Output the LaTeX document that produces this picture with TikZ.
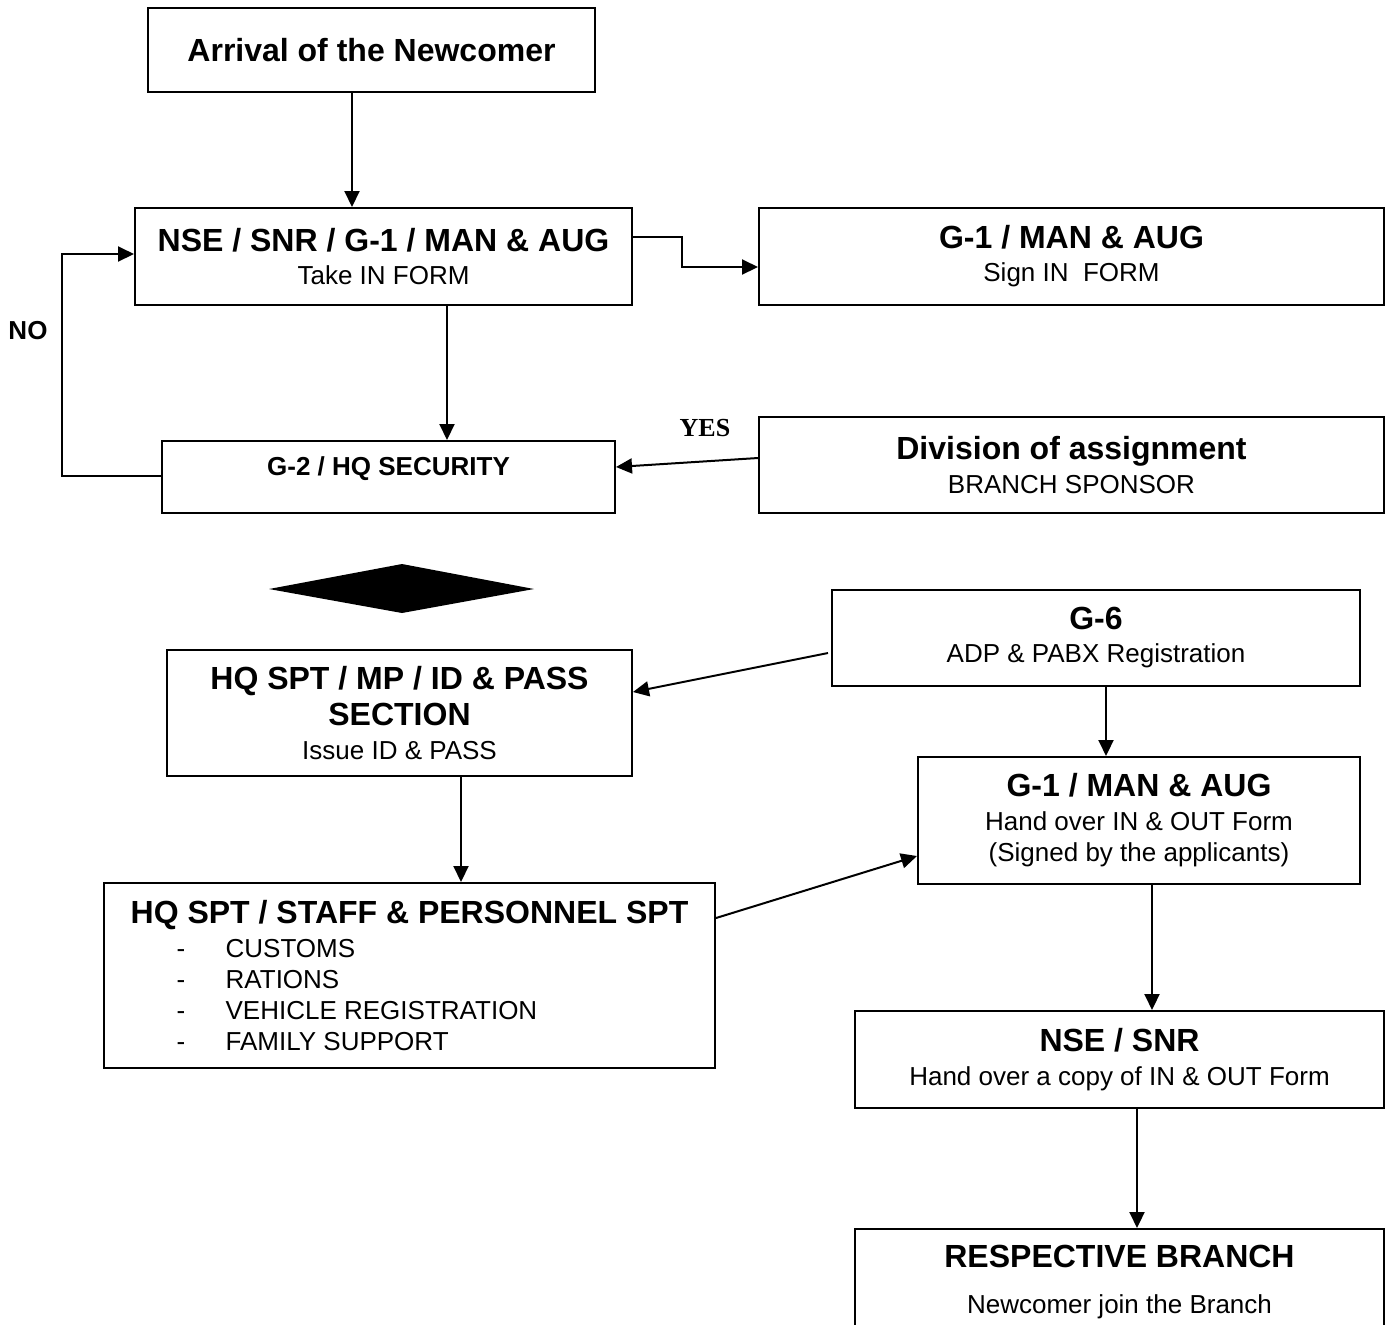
\documentclass[tikz,border=0pt]{standalone}
\usepackage{fontspec}
\setmainfont{Liberation Sans}
\newfontfamily\yesfont{Liberation Serif}
\usetikzlibrary{positioning,calc,arrows.meta}

\newcommand{\hd}[1]{{\fontsize{16}{17}\selectfont\bfseries #1}}
\newcommand{\itm}[1]{\makebox[47.5pt][l]{\hspace{23pt}-}#1}

\tikzset{
  box/.style={draw, line width=1pt, rectangle, align=center, inner sep=0pt,
    font=\fontsize{13}{15.5}\selectfont},
  arr/.style={-{Triangle[length=8pt,width=7.5pt]}, line width=1pt},
  lbl/.style={font=\fontsize{13}{15.5}\selectfont\bfseries}
}

\begin{document}
\begin{tikzpicture}[x=0.5pt,y=-0.5pt]
    \clip (0,0) rectangle (1390,1324);

    % Boxes
    \node[box, minimum width=223.5pt, minimum height=42pt] (arrival) at (371.5,50)
        {\hd{Arrival of the Newcomer}};
    \node[box, minimum width=248.5pt, minimum height=48.5pt] (takein) at (383.5,256.5)
        {\hd{NSE / SNR / G-1 / MAN \& AUG}\\[1pt] Take IN FORM};
    \node[box, minimum width=312.5pt, minimum height=48.5pt] (signin) at (1071.5,256.5)
        {\hd{G-1 / MAN \& AUG}\\[1pt] Sign IN\ \ FORM};
    \node[box, minimum width=226.5pt, minimum height=36pt,
        label={[yshift=4pt, font=\fontsize{13}{15.5}\selectfont\bfseries]center:G-2 / HQ SECURITY}]
        (security) at (388.5,477) {};
    \node[box, minimum width=312.5pt, minimum height=48pt] (division) at (1071.5,465)
        {\hd{Division of assignment}\\[1.5pt] BRANCH SPONSOR};

    % Decision
    \fill (269,589) -- (402,564) -- (534,589) -- (402,613) -- cycle;

    \node[box, minimum width=264pt, minimum height=48pt] (adp) at (1096,638)
        {\hd{G-6}\\[1pt] ADP \& PABX Registration};
    \node[box, minimum width=232.5pt, minimum height=63pt] (idpass) at (399.5,713)
        {\hd{HQ SPT / MP / ID \& PASS}\\[2.5pt] \hd{SECTION}\\[1.5pt] Issue ID \& PASS};
    \node[box, minimum width=221pt, minimum height=63.5pt] (handover) at (1139,820.5)
        {\hd{G-1 / MAN \& AUG}\\[1.5pt] Hand over IN \& OUT Form\\ (Signed by the applicants)};
    \node[box, align=left, minimum width=305.5pt, minimum height=92.5pt] (staff) at (409.5,975.5)
        {\hd{HQ SPT / STAFF \& PERSONNEL SPT}\\[1.5pt]
         \itm{CUSTOMS}\\ \itm{RATIONS}\\ \itm{VEHICLE REGISTRATION}\\ \itm{FAMILY SUPPORT}};
    \node[box, minimum width=264.5pt, minimum height=48.5pt] (copy) at (1119.5,1059.5)
        {\hd{NSE / SNR}\\[1.5pt] Hand over a copy of IN \& OUT Form};
    \node[box, minimum width=264.5pt, minimum height=70pt, anchor=north] (branch) at (1119.5,1228) {};
    \node[anchor=north, inner sep=0pt, align=center, font=\fontsize{13}{15.5}\selectfont]
        (branchtxt) at ($(branch.north)+(0,17)$)
        {\hd{RESPECTIVE BRANCH}\\[7.5pt] Newcomer join the Branch};

    % Connectors
    \draw[arr] (arrival.south -| 352,0) -- (takein.north -| 352,0);
    \draw[arr] (takein.east |- 0,237) -- (682,237) -- (682,267) -- (signin.west |- 0,267);
    \draw[arr] (takein.south -| 447,0) -- (security.north -| 447,0);
    \draw[arr] (security.west |- 0,476) -- (62,476) -- (62,254) -- (takein.west |- 0,254);
    \draw[arr] (division.west |- 0,458) -- (security.east |- 0,467);
    \draw[arr] (828,653) -- (idpass.east |- 0,692);
    \draw[arr] (adp.south -| 1106,0) -- (handover.north -| 1106,0);
    \draw[arr] (idpass.south -| 461,0) -- (staff.north -| 461,0);
    \draw[arr] (staff.east |- 0,918) -- (handover.west |- 0,856);
    \draw[arr] (handover.south -| 1152,0) -- (copy.north -| 1152,0);
    \draw[arr] (copy.south -| 1137,0) -- (branch.north -| 1137,0);

    % Labels
    \node[lbl] (no) at (28,331) {NO};
    \node[lbl, font=\yesfont\fontsize{13}{15.5}\selectfont\bfseries] (yes) at (705,428) {YES};
\end{tikzpicture}
\end{document}
